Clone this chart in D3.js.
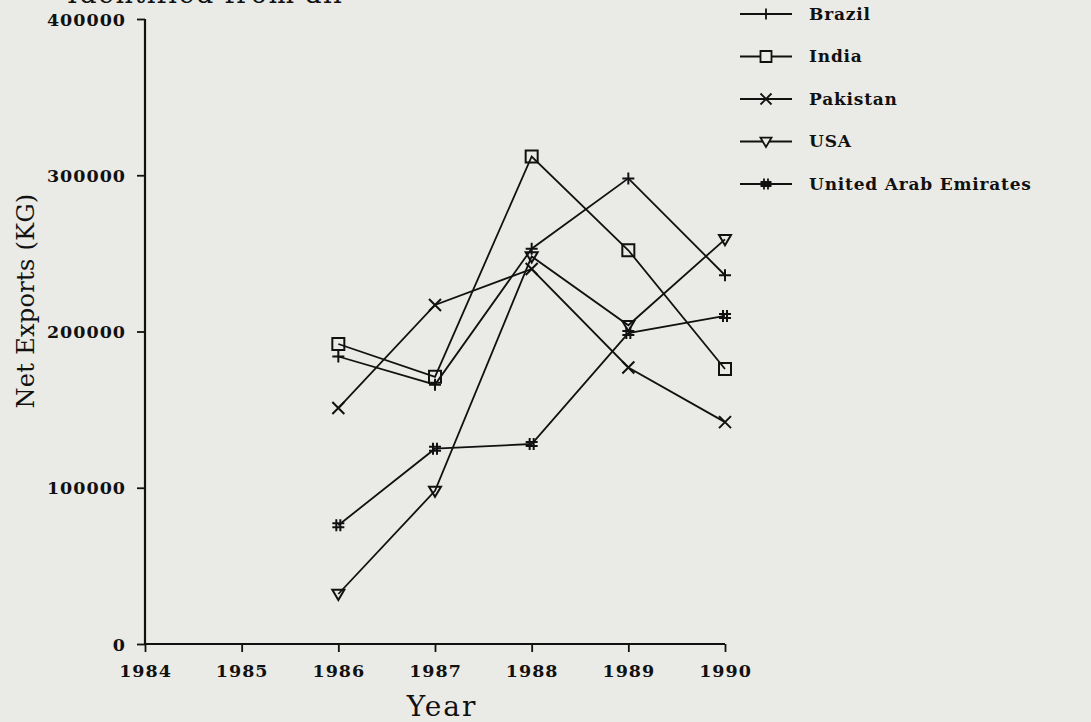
<!DOCTYPE html>
<html>
<head>
<meta charset="utf-8">
<script src="https://cdn.jsdelivr.net/npm/d3@7"></script>
<style>
  body { margin: 0; background: #eaebe6; }
  svg { display: block; }
  .tick text { font-family: "DejaVu Serif", serif; font-weight: bold; font-size: 17.5px; letter-spacing: 1px; fill: #111; }
</style>
</head>
<body>
<div id="chart"></div>
<script>
var years = [1986, 1987, 1988, 1989, 1990];
var brazil = [184000, 166000, 253000, 298000, 236000];
var india = [192000, 171000, 312000, 252000, 176000];
var pakistan = [151000, 217000, 240000, 177000, 142000];
var usa = [32000, 98000, 248000, 204000, 259000];
var uae = [76000, 125000, 128000, 199000, 210000];
var seriesNames = ["Brazil", "India", "Pakistan", "USA", "United Arab Emirates"];
var seriesMarks = ["plus", "square", "x", "tri", "hash"];
var xTicks = [1984, 1985, 1986, 1987, 1988, 1989, 1990];
var yTicks = [0, 100000, 200000, 300000, 400000];

var width = 1091, height = 722;
var svg = d3.select("#chart").append("svg")
    .attr("width", width)
    .attr("height", height);

var x = d3.scaleLinear().domain([1984, 1990]).range([145, 725]);
var y = d3.scaleLinear().domain([0, 400000]).range([644, 19]);

// marker shapes, drawn as strokes like the old plotter
function markPath(kind, s) {
    if (kind == "plus") return "M" + (-s) + ",0H" + s + "M0," + (-s) + "V" + s;
    if (kind == "square") return "M" + (-s) + "," + (-s) + "H" + s + "V" + s + "H" + (-s) + "Z";
    if (kind == "x") return "M" + (-s) + "," + (-s) + "L" + s + "," + s + "M" + s + "," + (-s) + "L" + (-s) + "," + s;
    if (kind == "tri") return "M" + (-s) + "," + (-s * 0.7) + "H" + s + "L0," + s + "Z";
    if (kind == "hash") return "M" + (-s) + ",-2H" + s + "M" + (-s) + ",2H" + s + "M-2," + (-s) + "V" + s + "M2," + (-s) + "V" + s;
}

var data = [brazil, india, pakistan, usa, uae].map(function(vals, i) {
    return {
        name: seriesNames[i],
        mark: seriesMarks[i],
        points: years.map(function(yr, j) { return { year: yr, value: vals[j] }; })
    };
});

// title, cut off at the top of the page like the scan
svg.append("text")
    .attr("x", 67).attr("y", 3)
    .style("font-family", "DejaVu Serif, serif")
    .style("font-size", "27px")
    .style("letter-spacing", "1.5px")
    .style("fill", "#111")
    .text("Identified from all");

// axes
var xAxis = d3.axisBottom(x).tickValues(xTicks).tickFormat(d3.format("d")).tickSize(8).tickPadding(13);
var yAxis = d3.axisLeft(y).tickValues(yTicks).tickFormat(d3.format("d")).tickSize(8).tickPadding(11);

var gx = svg.append("g").attr("transform", "translate(0," + y(0) + ")").call(xAxis);
var gy = svg.append("g").attr("transform", "translate(" + x(1984) + ",0)").call(yAxis);
[gx, gy].forEach(function(g) {
    g.select(".domain").attr("stroke", "#111").attr("stroke-width", 2.2)
        .attr("d", g === gx ? "M" + x(1984) + ",0H" + x(1990) : "M0," + y(0) + "V" + y(400000));
    g.selectAll(".tick line").attr("stroke", "#111").attr("stroke-width", 1.8);
});
gy.selectAll(".tick text").attr("dy", "0.35em");

svg.append("text")
    .attr("x", 442).attr("y", 716)
    .attr("text-anchor", "middle")
    .style("font-family", "DejaVu Serif, serif")
    .style("font-size", "28px")
    .style("letter-spacing", "2px")
    .style("fill", "#111")
    .text("Year");

svg.append("text")
    .attr("transform", "translate(34,301) rotate(-90)")
    .attr("text-anchor", "middle")
    .style("font-family", "DejaVu Serif, serif")
    .style("font-size", "24px")
    .style("letter-spacing", "0.3px")
    .style("fill", "#111")
    .text("Net Exports (KG)");

// lines
var line = d3.line()
    .x(function(d) { return x(d.year); })
    .y(function(d) { return y(d.value); });

var series = svg.append("g").selectAll("g")
    .data(data)
    .enter().append("g");

series.append("path")
    .attr("d", function(d) { return line(d.points); })
    .attr("fill", "none")
    .attr("stroke", "#111")
    .attr("stroke-width", 1.8);

series.selectAll(".mark")
    .data(function(d) { return d.points.map(function(p) { return { mark: d.mark, p: p }; }); })
    .enter().append("path")
    .attr("class", "mark")
    .attr("transform", function(d) { return "translate(" + x(d.p.year) + "," + y(d.p.value) + ")"; })
    .attr("d", function(d) { return markPath(d.mark, 6); })
    .attr("fill", "none")
    .attr("stroke", "#111")
    .attr("stroke-width", 2);

// legend
var legend = svg.append("g").selectAll("g")
    .data(data)
    .enter().append("g")
    .attr("transform", function(d, i) { return "translate(740," + (14 + i * 42.5) + ")"; });

legend.append("line")
    .attr("x1", 0).attr("x2", 52)
    .attr("stroke", "#111").attr("stroke-width", 1.8);
legend.append("path")
    .attr("transform", "translate(26,0)")
    .attr("d", function(d) { return markPath(d.mark, 5.5); })
    .attr("fill", "#eaebe6")
    .attr("stroke", "#111")
    .attr("stroke-width", 1.8);
legend.append("text")
    .attr("x", 69).attr("dy", "0.35em")
    .style("font-family", "DejaVu Serif, serif")
    .style("font-weight", "bold")
    .style("font-size", "17px")
    .style("letter-spacing", "0.8px")
    .style("fill", "#111")
    .text(function(d) { return d.name; });
</script>
</body>
</html>
